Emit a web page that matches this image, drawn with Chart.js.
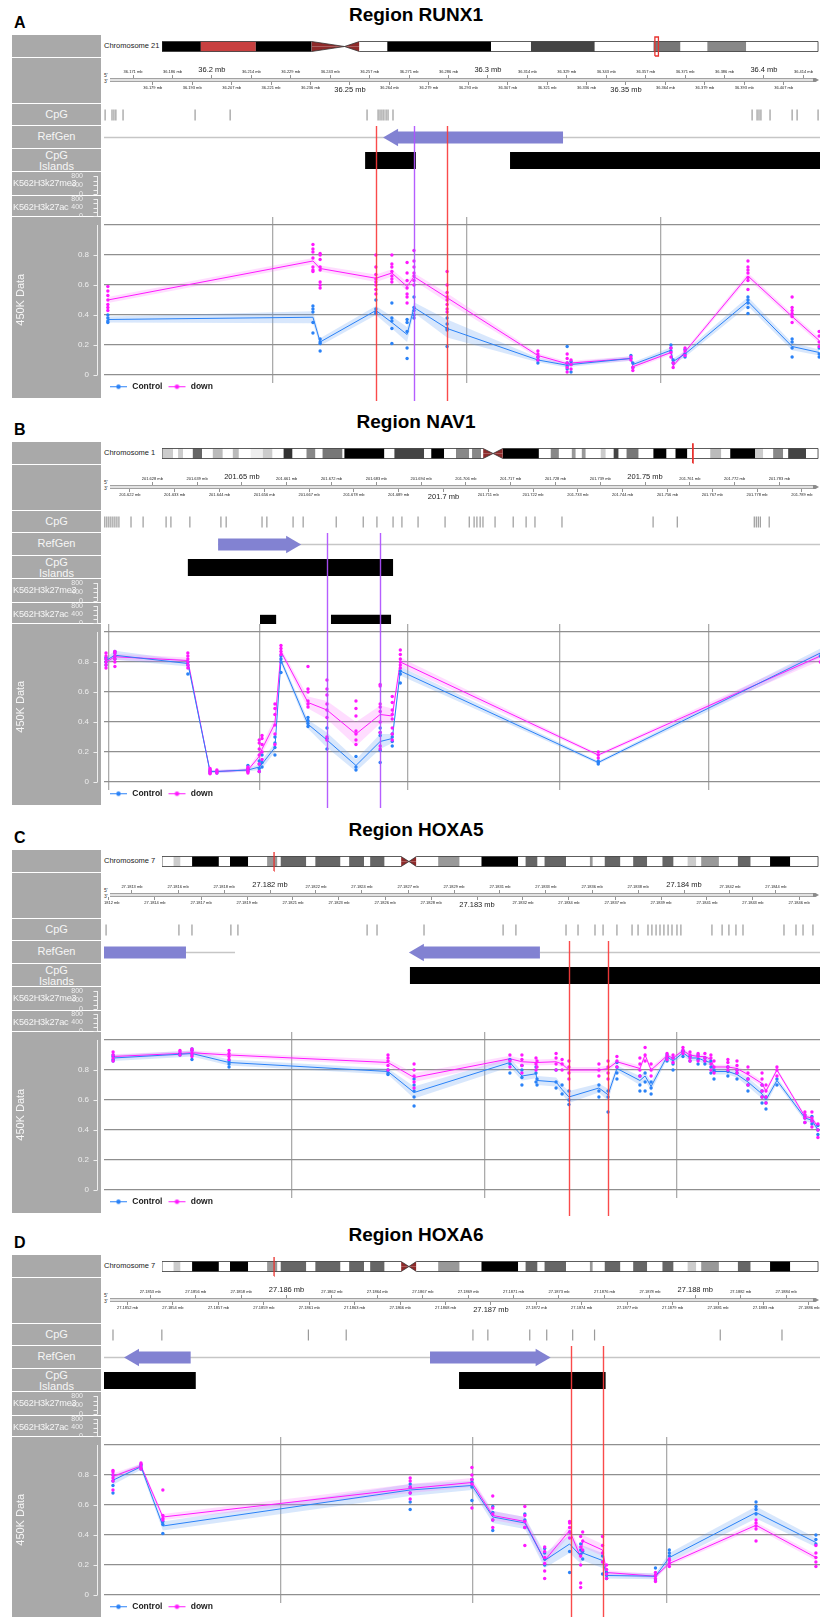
<!DOCTYPE html>
<html>
<head>
<meta charset="utf-8">
<title>Regions</title>
<script src="https://cdn.jsdelivr.net/npm/chart.js@4.4.1/dist/chart.umd.min.js"></script>
<style>
  body { margin: 0; background: #fff; font-family: Arial, "Liberation Sans", Helvetica, sans-serif; }
  #fig { position: relative; width: 820px; height: 1617px; overflow: hidden; }
  #fig canvas, #fig div { position: absolute; }
  .box { left: 12px; width: 89px; background: #a9a9a9; color: #f6f6f6; font-size: 11px; }
  .lbl { width: 89px; text-align: center; }
  .letter { left: 14px; font-size: 16px; font-weight: bold; line-height: 16px; }
  .title { left: 12px; width: 808px; text-align: center; font-size: 19px; font-weight: bold; line-height: 19px; }
  .chrom { left: 104px; font-size: 7.5px; color: #222; line-height: 8px; }
  .prime { left: 104px; font-size: 5px; color: #333; line-height: 5px; }
</style>
</head>
<body>
<div id="fig"></div>
<script>
// === Panel A : RUNX1 (chr21) ===
const A_title = 'Region RUNX1', A_letter = 'A', A_chrom = 'Chromosome 21';
const A_range = [36.1609, 36.4203];
const A_chrLen = 48.13;
const A_chrEdges = [0, 2.85, 6.88, 10.97, 13.39, 14.48, 16.53, 24.14, 27.07, 31.75, 36.06, 38.04, 40.01, 42.86, 48.13];
const A_chrColors = ['#000', '#c84040', '#000', null, null, '#fff', '#000', '#fff', '#444', '#fff', '#777', '#fff', '#888', '#fff'];
const A_centro = [10.97, 13.39, 14.48];
const A_rulerTop = [36.17143, 36.18571, 36.2, 36.21429, 36.22857, 36.24286, 36.25714, 36.27143, 36.28571, 36.3, 36.31429, 36.32857, 36.34286, 36.35714, 36.37143, 36.38571, 36.4, 36.41429];
const A_rulerBottom = [36.17857, 36.19286, 36.20714, 36.22143, 36.23571, 36.25, 36.26429, 36.27857, 36.29286, 36.30714, 36.32143, 36.33571, 36.35, 36.36429, 36.37857, 36.39286, 36.40714];
const A_rulerBig = [36.2, 36.25, 36.3, 36.35, 36.4];
const A_cpg = [36.1613, 36.1638, 36.1645, 36.1652, 36.1678, 36.1939, 36.2066, 36.2562, 36.2602, 36.2609, 36.2616, 36.2623, 36.2631, 36.2638, 36.2656, 36.3957, 36.3975, 36.3982, 36.3989, 36.4022, 36.4102, 36.4120, 36.4196];
const A_genes = [[36.2620, 36.3272, -1]];
const A_geneLines = [[36.1609, 36.4203]];
const A_islands = [[36.2555, 36.2739], [36.3080, 36.4300]];
const A_acBlocks = [];
const A_marks = [36.2594, 36.2732, 36.2852];
const A_markColors = ['red', 'purple', 'red'];
const A_vgrid = [36.2221, 36.2924, 36.3627];
const A_pos = [36.1623, 36.2366, 36.2392, 36.2594, 36.2652, 36.2707, 36.2732, 36.2852, 36.3181, 36.3287, 36.3301, 36.3518, 36.3525, 36.3663, 36.3671, 36.3714, 36.3942, 36.4102, 36.4200];
const A_ctrl = [0.37, 0.385, 0.22, 0.43, 0.35, 0.27, 0.45, 0.31, 0.10, 0.065, 0.07, 0.11, 0.07, 0.165, 0.09, 0.14, 0.49, 0.19, 0.15];
const A_down = [0.50, 0.76, 0.71, 0.645, 0.68, 0.59, 0.655, 0.515, 0.13, 0.075, 0.08, 0.11, 0.055, 0.15, 0.06, 0.155, 0.66, 0.39, 0.23];
const A_ctrlCI = [0.02, 0.04, 0.025, 0.03, 0.04, 0.05, 0.035, 0.06, 0.015, 0.015, 0.015, 0.015, 0.015, 0.02, 0.02, 0.02, 0.03, 0.025, 0.02];
const A_downCI = [0.02, 0.02, 0.02, 0.025, 0.025, 0.03, 0.025, 0.03, 0.015, 0.015, 0.015, 0.015, 0.015, 0.015, 0.015, 0.015, 0.02, 0.02, 0.02];
const A_ctrlDots = [[0.35, 0.36, 0.38, 0.40], [0.46, 0.44, 0.42, 0.35, 0.28], [0.24, 0.22, 0.21, 0.16], [0.50, 0.44, 0.42, 0.41], [0.48, 0.38, 0.36, 0.31, 0.21], [0.37, 0.35, 0.29, 0.18, 0.11], [0.52, 0.45, 0.43, 0.40, 0.38], [0.38, 0.34, 0.31, 0.30, 0.19], [0.08, 0.10, 0.12], [0.04, 0.06, 0.08, 0.19], [0.02, 0.07, 0.09], [0.13, 0.11], [0.05, 0.08], [0.18, 0.16, 0.20], [0.08, 0.10], [0.12, 0.14, 0.17], [0.52, 0.50, 0.48, 0.45, 0.41], [0.24, 0.22, 0.18, 0.12], [0.18, 0.14, 0.12]];
const A_downDots = [[0.43, 0.45, 0.47, 0.50, 0.53, 0.56, 0.59], [0.87, 0.84, 0.82, 0.78, 0.72, 0.70, 0.69], [0.81, 0.80, 0.77, 0.72, 0.70, 0.62, 0.60, 0.58], [0.80, 0.72, 0.67, 0.64, 0.62, 0.60, 0.57, 0.54], [0.80, 0.74, 0.72, 0.69, 0.66, 0.64, 0.62], [0.75, 0.68, 0.63, 0.58, 0.54, 0.52, 0.48], [0.83, 0.76, 0.72, 0.68, 0.66, 0.63, 0.60], [0.69, 0.60, 0.55, 0.52, 0.50, 0.47, 0.44, 0.42], [0.10, 0.12, 0.14, 0.16], [0.02, 0.05, 0.08, 0.11, 0.14], [0.04, 0.07, 0.10], [0.12, 0.10], [0.03, 0.05], [0.12, 0.15, 0.18], [0.05, 0.08], [0.13, 0.16, 0.18], [0.76, 0.72, 0.70, 0.68, 0.65, 0.63, 0.57], [0.52, 0.45, 0.43, 0.41, 0.39, 0.35], [0.29, 0.26, 0.22, 0.19]];

// === Panel B : NAV1 (chr1) ===
const B_title = 'Region NAV1', B_letter = 'B', B_chrom = 'Chromosome 1';
const B_range = [201.6158, 201.7934];
const B_chrLen = 249.25;
const B_chrEdges = [0, 4.2, 6.1, 8.0, 11.7, 15.2, 19.3, 23.1, 26.9, 29.2, 33.7, 38.3, 42.0, 46.2, 49.6, 54.9, 58.3, 61.0, 68.6, 69.3, 84.5, 88.3, 99.6, 102.3, 107.2, 111.7, 116.7, 117.8, 121.2, 122.0, 125.8, 129.5, 143.2, 147.7, 150.8, 155.7, 157.2, 159.5, 161.0, 166.7, 168.6, 171.6, 173.5, 176.5, 181.1, 186.7, 191.7, 195.1, 199.6, 208.3, 212.5, 215.9, 225.4, 228.4, 232.2, 236.0, 237.9, 244.7, 249.25];
const B_chrColors = ['#ccc', '#fff', '#ccc', '#fff', '#666', '#fff', '#bbb', '#fff', '#bbb', '#fff', '#eee', '#ccc', '#fff', '#333', '#fff', '#888', '#fff', '#777', '#fff', '#000', '#fff', '#444', '#fff', '#000', '#fff', '#888', '#fff', '#888', '#fff', null, null, '#000', '#fff', '#888', '#fff', '#999', '#fff', '#999', '#fff', '#ccc', '#fff', '#444', '#fff', '#777', '#fff', '#000', '#fff', '#000', '#fff', '#bbb', '#fff', '#000', '#ccc', '#fff', '#888', '#fff', '#444', '#fff'];
const B_centro = [122.0, 125.8, 129.5];
const B_rulerTop = [201.62778, 201.63889, 201.65, 201.66111, 201.67222, 201.68333, 201.69444, 201.70556, 201.71667, 201.72778, 201.73889, 201.75, 201.76111, 201.77222, 201.78333];
const B_rulerBottom = [201.62222, 201.63333, 201.64444, 201.65556, 201.66667, 201.67778, 201.68889, 201.7, 201.71111, 201.72222, 201.73333, 201.74444, 201.75556, 201.76667, 201.77778, 201.78889];
const B_rulerBig = [201.65, 201.7, 201.75];
const B_cpg = [201.6160, 201.6165, 201.6170, 201.6175, 201.6180, 201.6185, 201.6190, 201.6195, 201.6225, 201.6255, 201.6312, 201.6324, 201.6371, 201.6448, 201.6461, 201.6550, 201.6562, 201.6627, 201.6652, 201.6734, 201.6801, 201.6835, 201.6875, 201.6897, 201.6937, 201.7004, 201.7064, 201.7076, 201.7083, 201.7091, 201.7098, 201.7128, 201.7173, 201.7205, 201.7227, 201.7294, 201.7520, 201.7580, 201.7771, 201.7776, 201.7781, 201.7786, 201.7808];
const B_genes = [[201.6441, 201.6647, 1]];
const B_geneLines = [[201.6441, 201.7934]];
const B_islands = [[201.6366, 201.6875]];
const B_acBlocks = [[201.6545, 201.6585], [201.6721, 201.6870]];
const B_marks = [201.6711, 201.6843];
const B_markColors = ['purple', 'purple'];
const B_vgrid = [201.6170, 201.6543, 201.6912, 201.7287, 201.7657];
const B_pos = [201.6163, 201.6185, 201.6366, 201.6421, 201.6438, 201.6515, 201.6543, 201.6550, 201.6582, 201.6597, 201.6664, 201.6711, 201.6783, 201.6843, 201.6873, 201.6893, 201.7384, 201.7935];
const B_ctrl = [0.81, 0.845, 0.79, 0.07, 0.07, 0.08, 0.10, 0.12, 0.23, 0.81, 0.385, 0.28, 0.11, 0.27, 0.29, 0.74, 0.13, 0.86];
const B_down = [0.80, 0.835, 0.81, 0.07, 0.07, 0.08, 0.17, 0.22, 0.39, 0.87, 0.53, 0.48, 0.32, 0.45, 0.44, 0.80, 0.18, 0.84];
const B_ctrlCI = [0.02, 0.03, 0.02, 0.01, 0.01, 0.01, 0.02, 0.03, 0.03, 0.02, 0.03, 0.05, 0.04, 0.05, 0.03, 0.03, 0.01, 0.03];
const B_downCI = [0.02, 0.02, 0.02, 0.01, 0.01, 0.01, 0.03, 0.03, 0.04, 0.02, 0.04, 0.06, 0.08, 0.06, 0.05, 0.03, 0.01, 0.03];
const B_ctrlDots = [[0.78, 0.80, 0.82, 0.83], [0.82, 0.84, 0.86, 0.87], [0.72, 0.78, 0.80], [0.06, 0.07, 0.08], [0.06, 0.07], [0.07, 0.08, 0.09, 0.11], [0.07, 0.09, 0.12, 0.14], [0.10, 0.13, 0.18], [0.18, 0.23, 0.26, 0.30], [0.73, 0.80, 0.82, 0.84], [0.37, 0.39, 0.41, 0.43], [0.22, 0.29, 0.36], [0.08, 0.10, 0.17], [0.13, 0.21, 0.31, 0.33, 0.36], [0.24, 0.27, 0.30, 0.32], [0.66, 0.72, 0.74], [0.12, 0.13, 0.14], [0.84, 0.86, 0.88]];
const B_downDots = [[0.76, 0.78, 0.80, 0.82, 0.84, 0.86], [0.77, 0.80, 0.82, 0.84, 0.86, 0.87], [0.76, 0.78, 0.80, 0.82, 0.84, 0.86], [0.055, 0.06, 0.07, 0.08, 0.09], [0.06, 0.07, 0.08], [0.06, 0.07, 0.08, 0.09, 0.10], [0.07, 0.12, 0.18, 0.22, 0.26, 0.28], [0.15, 0.20, 0.25, 0.29, 0.31], [0.25, 0.32, 0.38, 0.45, 0.49, 0.52], [0.85, 0.87, 0.89, 0.91], [0.50, 0.52, 0.54, 0.60, 0.62, 0.77], [0.28, 0.30, 0.43, 0.48, 0.52, 0.58, 0.62, 0.68], [0.25, 0.28, 0.32, 0.34, 0.44, 0.49, 0.54], [0.22, 0.24, 0.33, 0.40, 0.47, 0.50, 0.52, 0.64, 0.65], [0.28, 0.32, 0.36, 0.42, 0.45, 0.48, 0.53, 0.57], [0.76, 0.78, 0.80, 0.82, 0.85, 0.88], [0.16, 0.18, 0.20], [0.80, 0.83, 0.86]];

// === chr7 ideogram (panels C and D) ===
const chr7Len = 159.14;
const chr7Edges = [0, 2.8, 4.5, 7.3, 13.8, 16.5, 20.9, 25.5, 28.0, 28.8, 35.0, 37.2, 43.3, 45.4, 49.0, 50.5, 54.0, 58.0, 59.9, 61.7, 67.0, 72.2, 77.5, 86.4, 88.2, 91.1, 92.8, 98.0, 103.8, 104.5, 107.4, 111.2, 114.3, 117.7, 121.4, 124.1, 127.5, 129.6, 130.8, 135.1, 139.7, 142.8, 147.5, 152.4, 159.14];
const chr7Colors = ['#fff', '#ccc', '#fff', '#000', '#fff', '#000', '#fff', '#999', '#fff', '#666', '#fff', '#666', '#fff', '#666', '#fff', '#666', '#fff', null, null, '#fff', '#999', '#fff', '#000', '#fff', '#666', '#fff', '#666', '#fff', '#999', '#fff', '#666', '#fff', '#666', '#fff', '#666', '#fff', '#ccc', '#fff', '#999', '#fff', '#666', '#fff', '#000', '#fff'];
const chr7Centro = [58.0, 59.9, 61.7];

// === Panel C : HOXA5 (chr7) ===
const C_title = 'Region HOXA5', C_letter = 'C', C_chrom = 'Chromosome 7';
const C_range = [27.181198, 27.184657];
const C_rulerTop = [27.181333, 27.181556, 27.181778, 27.182, 27.182222, 27.182444, 27.182667, 27.182889, 27.183111, 27.183333, 27.183556, 27.183778, 27.184, 27.184222, 27.184444];
const C_rulerBottom = [27.181222, 27.181444, 27.181667, 27.181889, 27.182111, 27.182333, 27.182556, 27.182778, 27.183, 27.183222, 27.183444, 27.183667, 27.183889, 27.184111, 27.184333, 27.184556];
const C_rulerBig = [27.182, 27.183, 27.184];
const C_cpg = [27.181208, 27.181560, 27.181623, 27.181811, 27.181845, 27.182469, 27.182517, 27.182744, 27.183126, 27.183188, 27.183430, 27.183488, 27.183570, 27.183609, 27.183676, 27.183749, 27.183778, 27.183826, 27.183845, 27.183865, 27.183884, 27.183903, 27.183923, 27.183942, 27.183966, 27.183985, 27.184135, 27.184184, 27.184217, 27.184251, 27.184285, 27.184483, 27.184541, 27.184575, 27.184623];
const C_genes = [[27.181050, 27.181594, -1], [27.182671, 27.183304, -1]];
const C_geneLines = [[27.181050, 27.181831], [27.183304, 27.184700]];
const C_islands = [[27.182676, 27.184800]];
const C_acBlocks = [];
const C_marks = [27.183444, 27.183633];
const C_markColors = ['red', 'red'];
const C_vgrid = [27.182106, 27.183039, 27.183966];
const C_pos = [27.181242, 27.181565, 27.181623, 27.181802, 27.182570, 27.182696, 27.183159, 27.183217, 27.183285, 27.183290, 27.183382, 27.183411, 27.183444, 27.183589, 27.183633, 27.183676, 27.183787, 27.183812, 27.183841, 27.183918, 27.183947, 27.183995, 27.184029, 27.184068, 27.184101, 27.184130, 27.184145, 27.184212, 27.184256, 27.184309, 27.184377, 27.184396, 27.184449, 27.184584, 27.184618, 27.184647];
const C_ctrl = [0.88, 0.905, 0.91, 0.85, 0.79, 0.65, 0.85, 0.76, 0.775, 0.73, 0.72, 0.67, 0.62, 0.68, 0.635, 0.81, 0.73, 0.76, 0.69, 0.89, 0.86, 0.915, 0.88, 0.88, 0.86, 0.85, 0.79, 0.79, 0.77, 0.72, 0.64, 0.60, 0.73, 0.48, 0.465, 0.40];
const C_down = [0.89, 0.91, 0.915, 0.90, 0.85, 0.75, 0.875, 0.855, 0.85, 0.85, 0.855, 0.84, 0.80, 0.80, 0.81, 0.855, 0.81, 0.90, 0.80, 0.895, 0.88, 0.93, 0.90, 0.89, 0.89, 0.87, 0.82, 0.82, 0.81, 0.77, 0.71, 0.66, 0.80, 0.49, 0.48, 0.42];
const C_ctrlCI = [0.02, 0.02, 0.02, 0.02, 0.02, 0.04, 0.03, 0.03, 0.03, 0.03, 0.03, 0.03, 0.04, 0.03, 0.04, 0.02, 0.03, 0.03, 0.03, 0.02, 0.02, 0.02, 0.02, 0.02, 0.02, 0.02, 0.02, 0.02, 0.02, 0.03, 0.03, 0.03, 0.02, 0.02, 0.02, 0.02];
const C_downCI = [0.015, 0.015, 0.015, 0.015, 0.02, 0.03, 0.02, 0.02, 0.02, 0.02, 0.02, 0.02, 0.02, 0.02, 0.02, 0.015, 0.02, 0.02, 0.02, 0.015, 0.015, 0.015, 0.015, 0.015, 0.015, 0.015, 0.015, 0.015, 0.015, 0.02, 0.02, 0.02, 0.015, 0.015, 0.015, 0.015];
const C_ctrlDots = [[0.86, 0.87, 0.89, 0.90], [0.90, 0.91], [0.87, 0.90, 0.93, 0.94], [0.82, 0.84, 0.86], [0.77, 0.78, 0.80], [0.56, 0.62, 0.66, 0.70, 0.74], [0.78, 0.84, 0.87], [0.70, 0.75, 0.80, 0.83], [0.72, 0.78, 0.82], [0.70, 0.74], [0.68, 0.72, 0.80], [0.64, 0.70], [0.57, 0.60, 0.66], [0.62, 0.66, 0.70], [0.52, 0.62, 0.66], [0.74, 0.78, 0.82, 0.85], [0.66, 0.70, 0.76], [0.66, 0.72, 0.78], [0.64, 0.68, 0.72], [0.86, 0.88, 0.90], [0.80, 0.84, 0.88], [0.89, 0.92, 0.93], [0.86, 0.89], [0.84, 0.87, 0.90], [0.84, 0.86, 0.88], [0.78, 0.82, 0.86], [0.74, 0.79, 0.80], [0.76, 0.79, 0.82], [0.74, 0.78, 0.80], [0.66, 0.70, 0.74], [0.58, 0.62, 0.66, 0.70], [0.54, 0.58, 0.62], [0.70, 0.74], [0.45, 0.48, 0.50], [0.44, 0.46, 0.49], [0.37, 0.40, 0.43]];
const C_downDots = [[0.86, 0.88, 0.90, 0.92], [0.90, 0.92, 0.93], [0.89, 0.91, 0.93, 0.94], [0.87, 0.89, 0.91, 0.93], [0.80, 0.83, 0.86, 0.88, 0.90], [0.68, 0.72, 0.76, 0.80, 0.84], [0.82, 0.86, 0.90], [0.78, 0.83, 0.87, 0.90], [0.80, 0.84, 0.88], [0.82, 0.86], [0.80, 0.84, 0.88, 0.91], [0.80, 0.84, 0.87], [0.74, 0.78, 0.82, 0.86], [0.76, 0.80, 0.84], [0.74, 0.78, 0.82, 0.86], [0.82, 0.86, 0.89], [0.76, 0.80, 0.84, 0.88], [0.86, 0.90, 0.95], [0.76, 0.80, 0.84], [0.87, 0.89, 0.91], [0.85, 0.88, 0.90], [0.91, 0.93, 0.95], [0.86, 0.88, 0.90, 0.92], [0.86, 0.89, 0.91], [0.86, 0.88, 0.91], [0.80, 0.84, 0.88, 0.90], [0.78, 0.82, 0.86], [0.80, 0.82, 0.85, 0.87], [0.78, 0.80, 0.83, 0.86], [0.70, 0.74, 0.78, 0.82], [0.62, 0.66, 0.70, 0.74, 0.78], [0.58, 0.62, 0.66, 0.70], [0.76, 0.80, 0.82], [0.45, 0.48, 0.50, 0.52], [0.42, 0.46, 0.48, 0.52], [0.35, 0.40, 0.44]];

// === Panel D : HOXA6 (chr7) ===
const D_title = 'Region HOXA6', D_letter = 'D', D_chrom = 'Chromosome 7';
const D_range = [27.185107, 27.188610];
const D_rulerTop = [27.185333, 27.185556, 27.185778, 27.186, 27.186222, 27.186444, 27.186667, 27.186889, 27.187111, 27.187333, 27.187556, 27.187778, 27.188, 27.188222, 27.188444];
const D_rulerBottom = [27.185222, 27.185444, 27.185667, 27.185889, 27.186111, 27.186333, 27.186556, 27.186778, 27.187, 27.187222, 27.187444, 27.187667, 27.187889, 27.188111, 27.188333, 27.188556];
const D_rulerBig = [27.186, 27.187, 27.188];
const D_cpg = [27.185151, 27.185390, 27.186107, 27.186292, 27.186912, 27.186985, 27.187190, 27.187273, 27.187400, 27.187507, 27.188122, 27.188424];
const D_genes = [[27.185205, 27.185531, -1], [27.186702, 27.187292, 1]];
const D_geneLines = [[27.185000, 27.188700]];
const D_islands = [[27.185102, 27.185556], [27.186844, 27.187561]];
const D_acBlocks = [];
const D_marks = [27.187390, 27.187546];
const D_markColors = ['red', 'red'];
const D_vgrid = [27.185970, 27.186912, 27.187858];
const D_pos = [27.185151, 27.185288, 27.185395, 27.186605, 27.186907, 27.187009, 27.187166, 27.187263, 27.187385, 27.187439, 27.187449, 27.187546, 27.187566, 27.187805, 27.187873, 27.188297, 27.188590];
const D_ctrl = [0.765, 0.855, 0.46, 0.70, 0.73, 0.52, 0.48, 0.23, 0.34, 0.26, 0.28, 0.23, 0.13, 0.125, 0.25, 0.55, 0.35];
const D_down = [0.79, 0.86, 0.52, 0.71, 0.75, 0.53, 0.49, 0.23, 0.43, 0.25, 0.36, 0.30, 0.15, 0.125, 0.21, 0.465, 0.25];
const D_ctrlCI = [0.03, 0.02, 0.03, 0.04, 0.03, 0.04, 0.04, 0.05, 0.06, 0.05, 0.05, 0.05, 0.02, 0.02, 0.03, 0.04, 0.03];
const D_downCI = [0.02, 0.015, 0.02, 0.03, 0.03, 0.03, 0.03, 0.03, 0.03, 0.04, 0.04, 0.04, 0.015, 0.015, 0.015, 0.02, 0.02];
const D_ctrlDots = [[0.68, 0.73, 0.76, 0.80], [0.84, 0.86, 0.87], [0.41, 0.47, 0.49], [0.57, 0.62, 0.68, 0.72, 0.74], [0.63, 0.72, 0.75, 0.77], [0.43, 0.50, 0.55, 0.59], [0.45, 0.50, 0.54], [0.20, 0.24, 0.28, 0.31], [0.15, 0.29, 0.42], [0.27, 0.30, 0.34], [0.24, 0.29], [0.14, 0.26], [0.11, 0.13, 0.15], [0.10, 0.13, 0.18], [0.26, 0.28, 0.30], [0.54, 0.57, 0.59, 0.62], [0.34, 0.37, 0.40]];
const D_downDots = [[0.70, 0.76, 0.78, 0.80, 0.82, 0.83], [0.84, 0.85, 0.87, 0.88], [0.50, 0.51, 0.53, 0.70], [0.64, 0.68, 0.72, 0.76, 0.78], [0.58, 0.74, 0.77, 0.80, 0.85], [0.45, 0.50, 0.54, 0.58, 0.66], [0.33, 0.45, 0.49, 0.53, 0.59], [0.11, 0.16, 0.21, 0.25, 0.29, 0.32], [0.38, 0.42, 0.45, 0.48, 0.49], [0.05, 0.08, 0.20, 0.26, 0.32, 0.39], [0.30, 0.36, 0.42], [0.22, 0.28, 0.33, 0.39], [0.11, 0.14, 0.17, 0.20], [0.09, 0.11, 0.13, 0.15], [0.19, 0.21, 0.23, 0.24], [0.36, 0.44, 0.46, 0.48, 0.50], [0.19, 0.22, 0.25, 0.28, 0.33]];

// shared axis values
const Y_TICKS = [0, 0.2, 0.4, 0.6, 0.8, 1];
const K_TICKS = [0, 400, 800];
const K_MINOR = [0, 200, 400, 600, 800];

// ---------- layout ----------
const PANEL_TOPS = [0, 407, 815, 1220];
const TRACK_LEFT = 104, TRACK_W = 716;
const COL = { Control: '#2a82f7', down: '#ff19ff' };
const BAND = { Control: 'rgba(100,160,245,0.25)', down: 'rgba(255,100,255,0.22)' };
const MARK = { red: 'rgba(250,60,60,0.92)', purple: 'rgba(175,80,255,0.92)' };
Chart.defaults.font.family = 'Arial, "Liberation Sans", Helvetica, sans-serif';

const PANELS = [
  { letter: A_letter, title: A_title, chrom: A_chrom, range: A_range, chrLen: A_chrLen, chrEdges: A_chrEdges, chrColors: A_chrColors, centro: A_centro,
    rulerTop: A_rulerTop, rulerBottom: A_rulerBottom, rulerBig: A_rulerBig, dec: 3, cpg: A_cpg, genes: A_genes, geneLines: A_geneLines, islands: A_islands, acBlocks: A_acBlocks,
    marks: A_marks, markColors: A_markColors, vgrid: A_vgrid, pos: A_pos, ctrl: A_ctrl, down: A_down, ctrlCI: A_ctrlCI, downCI: A_downCI, ctrlDots: A_ctrlDots, downDots: A_downDots },
  { letter: B_letter, title: B_title, chrom: B_chrom, range: B_range, chrLen: B_chrLen, chrEdges: B_chrEdges, chrColors: B_chrColors, centro: B_centro,
    rulerTop: B_rulerTop, rulerBottom: B_rulerBottom, rulerBig: B_rulerBig, dec: 3, cpg: B_cpg, genes: B_genes, geneLines: B_geneLines, islands: B_islands, acBlocks: B_acBlocks,
    marks: B_marks, markColors: B_markColors, vgrid: B_vgrid, pos: B_pos, ctrl: B_ctrl, down: B_down, ctrlCI: B_ctrlCI, downCI: B_downCI, ctrlDots: B_ctrlDots, downDots: B_downDots },
  { letter: C_letter, title: C_title, chrom: C_chrom, range: C_range, chrLen: chr7Len, chrEdges: chr7Edges, chrColors: chr7Colors, centro: chr7Centro,
    rulerTop: C_rulerTop, rulerBottom: C_rulerBottom, rulerBig: C_rulerBig, dec: 4, cpg: C_cpg, genes: C_genes, geneLines: C_geneLines, islands: C_islands, acBlocks: C_acBlocks,
    marks: C_marks, markColors: C_markColors, vgrid: C_vgrid, pos: C_pos, ctrl: C_ctrl, down: C_down, ctrlCI: C_ctrlCI, downCI: C_downCI, ctrlDots: C_ctrlDots, downDots: C_downDots },
  { letter: D_letter, title: D_title, chrom: D_chrom, range: D_range, chrLen: chr7Len, chrEdges: chr7Edges, chrColors: chr7Colors, centro: chr7Centro,
    rulerTop: D_rulerTop, rulerBottom: D_rulerBottom, rulerBig: D_rulerBig, dec: 4, cpg: D_cpg, genes: D_genes, geneLines: D_geneLines, islands: D_islands, acBlocks: D_acBlocks,
    marks: D_marks, markColors: D_markColors, vgrid: D_vgrid, pos: D_pos, ctrl: D_ctrl, down: D_down, ctrlCI: D_ctrlCI, downCI: D_downCI, ctrlDots: D_ctrlDots, downDots: D_downDots }
];

// === plugins ===
// highlight lines, drawn over the full height of every track they cross
const vlines = {
  id: 'vlines',
  afterDatasetsDraw(chart, args, o) {
    if (!o || !o.at) return;
    const ctx = chart.ctx, xs = chart.scales.x;
    ctx.save();
    ctx.lineWidth = 1.4;
    o.at.forEach((v, i) => {
      const px = Math.round(xs.getPixelForValue(v)) + 0.5;
      ctx.strokeStyle = MARK[o.colors[i]];
      ctx.beginPath(); ctx.moveTo(px, 0); ctx.lineTo(px, chart.height); ctx.stroke();
    });
    ctx.restore();
  }
};
// small axis line sitting inside the grey title column
const sideAxis = {
  id: 'sideAxis',
  afterDraw(chart, args, o) {
    if (!o || !o.ticks) return;
    const ys = chart.scales.y, ctx = chart.ctx, x = chart.chartArea.left - 7 + 0.5;
    ctx.save();
    ctx.strokeStyle = o.color; ctx.lineWidth = 1;
    ctx.beginPath();
    ctx.moveTo(x, ys.getPixelForValue(o.from)); ctx.lineTo(x, ys.getPixelForValue(o.to));
    o.ticks.forEach(v => { const y = Math.round(ys.getPixelForValue(v)) + 0.5; ctx.moveTo(x, y); ctx.lineTo(x - 4, y); });
    ctx.stroke();
    ctx.restore();
  }
};
Chart.register(vlines, sideAxis);

const fig = document.getElementById('fig');

function div(cls, left, top, w, h, html, style) {
  const d = document.createElement('div');
  if (cls) d.className = cls;
  if (left !== null) d.style.left = left + 'px';
  d.style.top = top + 'px';
  if (w) d.style.width = w + 'px';
  if (h) d.style.height = h + 'px';
  if (style) Object.assign(d.style, style);
  d.innerHTML = html || '';
  fig.appendChild(d);
  return d;
}

function mk(left, top, w, h, cfg) {
  const c = document.createElement('canvas');
  c.width = w; c.height = h;
  c.style.left = left + 'px'; c.style.top = top + 'px';
  fig.appendChild(c);
  const o = cfg.options || {};
  o.responsive = false; o.animation = false; o.events = [];
  o.layout = Object.assign({ padding: 0, autoPadding: false }, o.layout);
  o.plugins = Object.assign({ legend: { display: false }, tooltip: { enabled: false } }, o.plugins);
  o.elements = { point: { radius: 0 }, line: { tension: 0, borderCapStyle: 'butt' } };
  cfg.options = o;
  return new Chart(c, cfg);
}

const pt = (x, y) => ({ x, y });
const hideX = r => ({ type: 'linear', min: r[0], max: r[1], display: false });
const hideY = (a, b) => ({ type: 'linear', min: a, max: b, display: false });
const noPad = s => { s.paddingLeft = 0; s.paddingRight = 0; s.paddingTop = 0; s.paddingBottom = 0; };

function ideogram(top, P) {
  const [c0, cm, c1] = P.centro, L = P.chrLen, h = 0.5;
  const [r0, r1] = P.range;
  const line = (data, extra) => Object.assign({ data, borderColor: '#333', borderWidth: 0.8 }, extra);
  mk(162, top, 658, 23, {
    type: 'line',
    data: { datasets: [
      line([pt(r0, -0.95), pt(r0, 0.95), pt(r1, 0.95), pt(r1, -0.95), pt(r0, -0.95)], { borderColor: '#e8322f', borderWidth: 1.3 }),
      line([pt(0, h), pt(c0, h), pt(cm, 0), pt(c1, h), pt(L, h)]),
      line([pt(0, -h), pt(c0, -h), pt(cm, 0), pt(c1, -h), pt(L, -h)]),
      line([pt(0, -h), pt(0, h)]),
      line([pt(L, -h), pt(L, h)]),
      line([pt(c0, h), pt(cm, 0), pt(c1, h)], { fill: 'origin', backgroundColor: '#8e2a2a', borderWidth: 0 }),
      line([pt(c0, -h), pt(cm, 0), pt(c1, -h)], { fill: 'origin', backgroundColor: '#8e2a2a', borderWidth: 0 }),
      { data: P.chrEdges.map(e => pt(e, 0)), borderWidth: 10, borderColor: 'rgba(0,0,0,0)',
        segment: { borderColor: c => P.chrColors[c.p0DataIndex] || 'rgba(0,0,0,0)' } }
    ] },
    options: { scales: { x: { type: 'linear', min: 0, max: L * 1.003, display: false }, y: hideY(-1.15, 1.15) } }
  });
}

function ruler(top, P) {
  const [r0, r1] = P.range, mpp = (r1 - r0) / TRACK_W;
  const fmt = v => Number(v.toFixed(P.dec)) + ' mb';
  const isBig = c => !!(c && c.tick && P.rulerBig.includes(c.tick.value));
  const axis = (pos, vals, height) => ({
    type: 'linear', position: pos, min: r0, max: r1,
    afterBuildTicks: s => { s.ticks = vals.map(v => ({ value: v })); },
    afterFit: s => { s.height = height; noPad(s); },
    grid: { drawOnChartArea: false, drawTicks: true, tickLength: 3, color: '#777', lineWidth: 0.8 },
    border: { display: false },
    ticks: { autoSkip: false, maxRotation: 0, minRotation: 0, padding: 0.5, callback: fmt,
      color: '#222', font: c => ({ size: isBig(c) ? 7.5 : 4 }) }
  });
  const s = r0 + 6 * mpp, e = r1 - 5 * mpp;
  mk(TRACK_LEFT, top, TRACK_W, 46, {
    type: 'line',
    data: { datasets: [
      { data: [pt(e, 0)], showLine: false, pointStyle: 'triangle', pointRotation: 90, pointRadius: 4, pointBackgroundColor: '#8c8c8c', pointBorderWidth: 0 },
      { data: [pt(s, 0), pt(e, 0)], borderColor: '#e2e2e2', borderWidth: 2.4 },
      { data: [pt(s, 0), pt(e, 0)], borderColor: '#8c8c8c', borderWidth: 4.6 }
    ] },
    options: { scales: { x: axis('bottom', P.rulerBottom, 22), xt: axis('top', P.rulerTop, 20), y: hideY(-1, 1) } }
  });
}

function cpgTrack(top, P) {
  mk(TRACK_LEFT, top, TRACK_W, 22, {
    type: 'line',
    data: { datasets: [{ data: P.cpg.map(x => pt(x, 0)), showLine: false, pointStyle: 'line', pointRotation: 90,
      pointRadius: 5.5, pointBorderColor: '#9a9a9a', pointBorderWidth: 1.2 }] },
    options: { scales: { x: hideX(P.range), y: hideY(-1, 1) } }
  });
}

function refGen(top, P) {
  const mpp = (P.range[1] - P.range[0]) / TRACK_W, r = 10;
  const heads = [], bodies = [];
  P.genes.forEach(([s, e, strand]) => {
    const tip = strand < 0 ? s : e, tail = strand < 0 ? e : s, dir = strand < 0 ? 1 : -1;
    heads.push({ data: [pt(tip + dir * r * mpp, 0)], showLine: false, pointStyle: 'triangle', pointRotation: strand < 0 ? -90 : 90,
      pointRadius: r, pointBackgroundColor: '#8282d2', pointBorderWidth: 0 });
    bodies.push({ data: [pt(tip + dir * 1.2 * r * mpp, 0), pt(tail, 0)], borderColor: '#8282d2', borderWidth: 12 });
  });
  const lines = P.geneLines.map(([s, e]) => ({ data: [pt(s, 0), pt(e, 0)], borderColor: '#c6c6c6', borderWidth: 1.6 }));
  mk(TRACK_LEFT, top, TRACK_W, 23, {
    type: 'line',
    data: { datasets: heads.concat(bodies, lines) },
    options: { scales: { x: hideX(P.range), y: hideY(-1, 1) },
      plugins: { vlines: { at: P.marks, colors: P.markColors } } }
  });
}

function islandTrack(top, P) {
  mk(TRACK_LEFT, top, TRACK_W, 23, {
    type: 'line',
    data: { datasets: P.islands.map(([s, e]) => ({ data: [pt(s, 0), pt(e, 0)], borderColor: '#000', borderWidth: 17 })) },
    options: { scales: { x: hideX(P.range), y: hideY(-1, 1) },
      plugins: { vlines: { at: P.marks, colors: P.markColors } } }
  });
}

function k562Track(top, h, padTop, padBottom, blocks, P) {
  mk(12, top, 808, h, {
    type: 'line',
    data: { datasets: blocks.map(([s, e]) => ({ data: [pt(s, 150), pt(e, 150)], borderColor: '#000', borderWidth: 10, clip: false })) },
    options: {
      layout: { padding: { top: padTop, bottom: padBottom } },
      scales: {
        x: hideX(P.range),
        y: { type: 'linear', min: 0, max: 800,
          afterBuildTicks: s => { s.ticks = K_TICKS.map(v => ({ value: v })); },
          afterFit: s => { s.width = 92; noPad(s); },
          grid: { display: false }, border: { display: false },
          ticks: { autoSkip: false, color: '#eeeeee', font: { size: 7 }, padding: 13 } }
      },
      plugins: { vlines: { at: P.marks, colors: P.markColors },
        sideAxis: { from: 0, to: 800, ticks: K_MINOR, color: '#eeeeee' } }
    }
  });
}

// legend symbol: short line with a dot, with a little space in front
function legendMark(color) {
  const c = document.createElement('canvas');
  c.width = 24; c.height = 7;
  const g = c.getContext('2d');
  g.strokeStyle = color; g.lineWidth = 1;
  g.beginPath(); g.moveTo(6, 3.5); g.lineTo(23, 3.5); g.stroke();
  g.fillStyle = color; g.beginPath(); g.arc(14.5, 3.5, 2.3, 0, Math.PI * 2); g.fill();
  return c;
}

function dataTrack(top, P) {
  const mean = vals => P.pos.map((x, i) => pt(x, vals[i]));
  const band = (vals, ci, sgn) => P.pos.map((x, i) => pt(x, vals[i] + sgn * ci[i]));
  const dots = arr => arr.flatMap((vs, i) => vs.map(y => pt(P.pos[i], y)));
  const dotSet = (name, arr) => ({ data: dots(arr), showLine: false, pointRadius: 1.7, pointBackgroundColor: COL[name], pointBorderWidth: 0 });
  const meanSet = (name, vals) => ({ label: name, showInLegend: true, data: mean(vals), borderColor: COL[name], borderWidth: 1,
    pointStyle: legendMark(COL[name]), pointRadius: 0 });
  const bandSets = (name, vals, ci) => [
    { data: band(vals, ci, 1), borderWidth: 0, backgroundColor: BAND[name] },
    { data: band(vals, ci, -1), borderWidth: 0, backgroundColor: BAND[name], fill: '-1' }
  ];
  const datasets = [dotSet('down', P.downDots), dotSet('Control', P.ctrlDots), meanSet('Control', P.ctrl), meanSet('down', P.down)]
    .concat(bandSets('down', P.down, P.downCI), bandSets('Control', P.ctrl, P.ctrlCI));
  mk(12, top, 808, 184, {
    type: 'line',
    data: { datasets },
    options: {
      scales: {
        x: { type: 'linear', min: P.range[0], max: P.range[1],
          afterBuildTicks: s => { s.ticks = P.vgrid.map(v => ({ value: v })); },
          afterFit: s => { noPad(s); },
          ticks: { display: false }, grid: { color: '#ababab', lineWidth: 1.3, drawTicks: false }, border: { display: false } },
        y: { type: 'linear', min: -0.05, max: 1.0533,
          afterBuildTicks: s => { s.ticks = Y_TICKS.map(v => ({ value: v })); },
          afterFit: s => { s.width = 92; noPad(s); },
          grid: { color: '#8f8f8f', lineWidth: 1.3, drawTicks: false }, border: { display: false },
          ticks: { color: '#eeeeee', font: { size: 8 }, padding: 15, callback: v => (v >= 1 ? '' : String(v)) },
          title: { display: true, text: '450K Data', color: '#f6f6f6', font: { size: 11 }, padding: { top: 2, bottom: 0 } } }
      },
      plugins: {
        legend: { display: true, position: 'bottom', align: 'start', fullSize: false,
          labels: { usePointStyle: true, pointStyleWidth: 24, boxHeight: 7, padding: 0, color: '#222',
            font: { size: 8.5, weight: 'bold' },
            filter: (item, data) => data.datasets[item.datasetIndex].showInLegend === true } },
        vlines: { at: P.marks, colors: P.markColors },
        sideAxis: { from: 0, to: 1, ticks: [0, 0.2, 0.4, 0.6, 0.8], color: '#eeeeee' }
      }
    }
  });
}

// grey title column rows (top, height, label)
const ROWS = [
  [35, 22, ''], [58, 45, ''], [104, 21, 'CpG'], [126, 22, 'RefGen'], [149, 22, 'CpG<br>Islands'],
  [172, 23, 'K562H3k27me3'], [196, 20, 'K562H3k27ac'], [217, 181, '']
];

PANELS.forEach((P, k) => {
  const t = PANEL_TOPS[k];
  div('letter', null, t + 15, 0, 0, P.letter);
  div('title', null, t + 5, 0, 0, P.title);
  ROWS.forEach(([rt, rh, label], i) => {
    div('box', null, t + rt, 0, rh, '');
    if (i >= 2 && i <= 4) {
      const two = label.includes('<br>');
      div('lbl', 12, t + rt + (two ? 0.5 : 4), 89, 0, label, { color: '#f6f6f6', fontSize: '11px', lineHeight: two ? '11px' : '13px' });
    }
    if (i === 5 || i === 6) {
      div('', 13, t + rt + 5.5, 0, 0, label, { color: '#f6f6f6', fontSize: '9.2px', letterSpacing: '-0.2px', lineHeight: '11px', whiteSpace: 'nowrap', zIndex: 3 });
    }
  });
  div('chrom', null, t + 42, 0, 0, P.chrom);
  div('prime', null, t + 73, 0, 0, "5'");
  div('prime', null, t + 79, 0, 0, "3'");

  ideogram(t + 35, P);
  ruler(t + 58, P);
  cpgTrack(t + 104, P);
  refGen(t + 126, P);
  islandTrack(t + 149, P);
  k562Track(t + 172, 24, 4, 2, [], P);
  k562Track(t + 196, 21, 3, 1, P.acBlocks, P);
  dataTrack(t + 217, P);
});
</script>
</body>
</html>
